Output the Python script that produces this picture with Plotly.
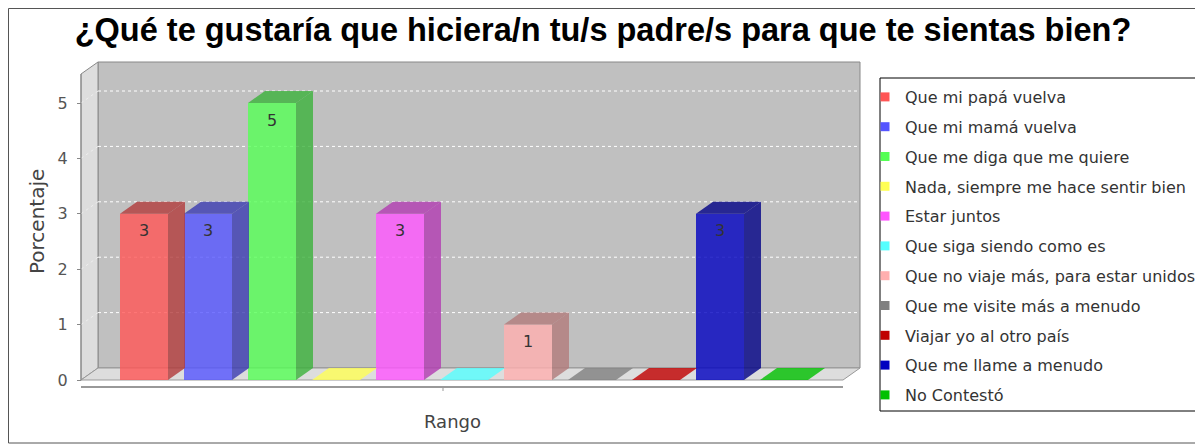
import plotly.graph_objects as go

# Data
category = "Rango"
series = [
    "Que mi papá vuelva",
    "Que mi mamá vuelva",
    "Que me diga que me quiere",
    "Nada, siempre me hace sentir bien",
    "Estar juntos",
    "Que siga siendo como es",
    "Que no viaje más, para estar unidos",
    "Que me visite más a menudo",
    "Viajar yo al otro país",
    "Que me llame a menudo",
    "No Contestó",
]
values = [3, 3, 5, 0, 3, 0, 1, 0, 0, 3, 0]
colors = ["#FF5555", "#5555FF", "#55FF55", "#FFFF55", "#FF55FF", "#55FFFF",
          "#FFAFAF", "#808080", "#C00000", "#0000C0", "#00C000"]
y_ticks = [0, 1, 2, 3, 4, 5]

# page has an 8px body margin, so the figure is drawn 8px in from the window corner
OFF = 8
FW, FH = 1203 - OFF, 444 - OFF
# plot area in window pixels
L, R, T, B = 60, 870, 55, 400


def dx(X):  # window pixel -> x data
    return (X - 144) / 64


def dy(Y):  # window pixel -> y data
    return (380 - Y) / 55.4


def px(X):  # window pixel -> paper
    return (X - L) / (R - L)


def py(Y):
    return (B - Y) / (B - T)


def cx(X):  # window pixel -> container
    return (X - OFF) / FW


def cy(Y):
    return 1 - (Y - OFF) / FH


def rgba(hexc, a, f=1.0):
    r, g, b = (int(hexc[k:k + 2], 16) for k in (1, 3, 5))
    return "rgba(%d,%d,%d,%s)" % (int(r * f), int(g * f), int(b * f), a)


DX, DY = 17 / 64, 12 / 55.4      # 3d depth
BW = 0.75                         # bar width
X0, X1, YTOP = dx(81), dx(843), dy(74)

fig = go.Figure()

# bars: front face + top + side
for i, (name, v, c) in enumerate(zip(series, values, colors)):
    a, b = i - BW / 2, i + BW / 2
    if v > 0:
        fig.add_trace(go.Bar(x=[i], y=[v], width=BW, marker_color=c, marker_line_width=0,
                             opacity=0.8, showlegend=False, hoverinfo="skip"))
        fig.add_trace(go.Scatter(x=[a, a + DX, b + DX, b, a], y=[v, v + DY, v + DY, v, v],
                                 fill="toself", mode="none", fillcolor=rgba(c, 0.8, 0.7),
                                 showlegend=False, hoverinfo="skip"))
        fig.add_trace(go.Scatter(x=[b, b + DX, b + DX, b, b], y=[0, DY, v + DY, v, 0],
                                 fill="toself", mode="none", fillcolor=rgba(c, 0.8, 0.7),
                                 showlegend=False, hoverinfo="skip"))
        fig.add_annotation(x=i, y=v, text=str(v), showarrow=False, yanchor="middle", yshift=-17,
                           font=dict(family="DejaVu Sans", size=16, color="#333333"))
    else:
        fig.add_trace(go.Scatter(x=[a, a + DX, b + DX, b, a], y=[v, v + DY, v + DY, v, v],
                                 fill="toself", mode="none", fillcolor=rgba(c, 0.8),
                                 showlegend=False, hoverinfo="skip"))

# legend entries
for name, c in zip(series, colors):
    fig.add_trace(go.Scatter(x=[None], y=[None], mode="markers", name=name, legendgroup=name,
                             marker=dict(symbol="square", size=9, color=c)))

shapes = []
# outer border
shapes.append(dict(type="rect", xref="paper", yref="paper", x0=px(8.5), x1=px(1201), y0=py(443), y1=py(8.5),
                   line=dict(color="#555555", width=1), fillcolor="white", layer="below"))
# back wall
shapes.append(dict(type="rect", x0=X0 + DX, x1=X1 + DX, y0=DY, y1=YTOP + DY,
                   fillcolor="#C0C0C0", line=dict(color="#888888", width=1), layer="below"))
# left wall
shapes.append(dict(type="path", path="M %f,0 L %f,%f L %f,%f L %f,%f Z" % (
    X0, X0 + DX, DY, X0 + DX, YTOP + DY, X0, YTOP),
    fillcolor="#DDDDDD", line=dict(color="#888888", width=1), layer="below"))
# floor
shapes.append(dict(type="path", path="M %f,0 L %f,0 L %f,%f L %f,%f Z" % (
    X0, X1, X1 + DX, DY, X0 + DX, DY),
    fillcolor="#DDDDDD", line=dict(color="#999999", width=1), layer="below"))
# grid lines on the walls
for t in y_ticks[1:]:
    shapes.append(dict(type="line", x0=X0 + DX, x1=X1 + DX, y0=t + DY, y1=t + DY,
                       line=dict(color="white", width=1, dash="3px,3px"), layer="below"))
    shapes.append(dict(type="line", x0=X0, x1=X0 + DX, y0=t, y1=t + DY,
                       line=dict(color="#EEEEEE", width=1, dash="3px,3px"), layer="below"))
# y axis line
shapes.append(dict(type="line", x0=X0, x1=X0, y0=0, y1=YTOP, line=dict(color="#888888", width=1)))
# x axis line + tick
shapes.append(dict(type="line", x0=X0, x1=X1, y0=dy(387), y1=dy(387), line=dict(color="#999999", width=2)))
shapes.append(dict(type="line", x0=dx(443), x1=dx(443), y0=dy(387), y1=dy(391), line=dict(color="#999999", width=1)))
# legend box
shapes.append(dict(type="rect", xref="paper", yref="paper", x0=px(880), x1=px(1197), y0=py(411), y1=py(78),
                   line=dict(color="#000000", width=1), fillcolor="white"))

fig.add_annotation(xref="paper", yref="paper", x=px(37), y=py(222), text="Porcentaje", textangle=-90,
                   xanchor="center", yanchor="middle", showarrow=False,
                   font=dict(family="DejaVu Sans", size=20, color="#444444"))
fig.add_annotation(xref="paper", yref="paper", x=px(452), y=py(421), text=category,
                   xanchor="center", yanchor="middle", showarrow=False,
                   font=dict(family="DejaVu Sans", size=18, color="#444444"))

fig.update_layout(
    width=FW, height=FH,
    margin=dict(l=L - OFF, r=1203 - R, t=T - OFF, b=444 - B, autoexpand=False),
    paper_bgcolor="white", plot_bgcolor="rgba(0,0,0,0)",
    barmode="overlay",
    title=dict(text="¿Qué te gustaría que hiciera/n tu/s padre/s para que te sientas bien?",
               x=cx(603), xref="container", xanchor="center", y=cy(30), yref="container", yanchor="middle",
               font=dict(family="Liberation Sans", size=32.5, color="black", weight="bold")),
    xaxis=dict(range=[dx(L), dx(R)], visible=False),
    yaxis=dict(range=[dy(B), dy(T)], anchor="free", position=px(81), tickvals=y_ticks,
               showgrid=False, zeroline=False, showline=False, ticks="outside", ticklen=4,
               tickcolor="#888888", ticklabelstandoff=6,
               tickfont=dict(family="DejaVu Sans", size=16, color="#555555")),
    shapes=shapes,
    legend=dict(xref="container", yref="container", x=cx(865), y=cy(80), xanchor="left",
                yanchor="top", bgcolor="rgba(0,0,0,0)", borderwidth=0, traceorder="grouped",
                tracegroupgap=6, itemwidth=30, maxheight=420,
                font=dict(family="DejaVu Sans", size=16, color="#333333")),
)

fig.write_html("out.html")
